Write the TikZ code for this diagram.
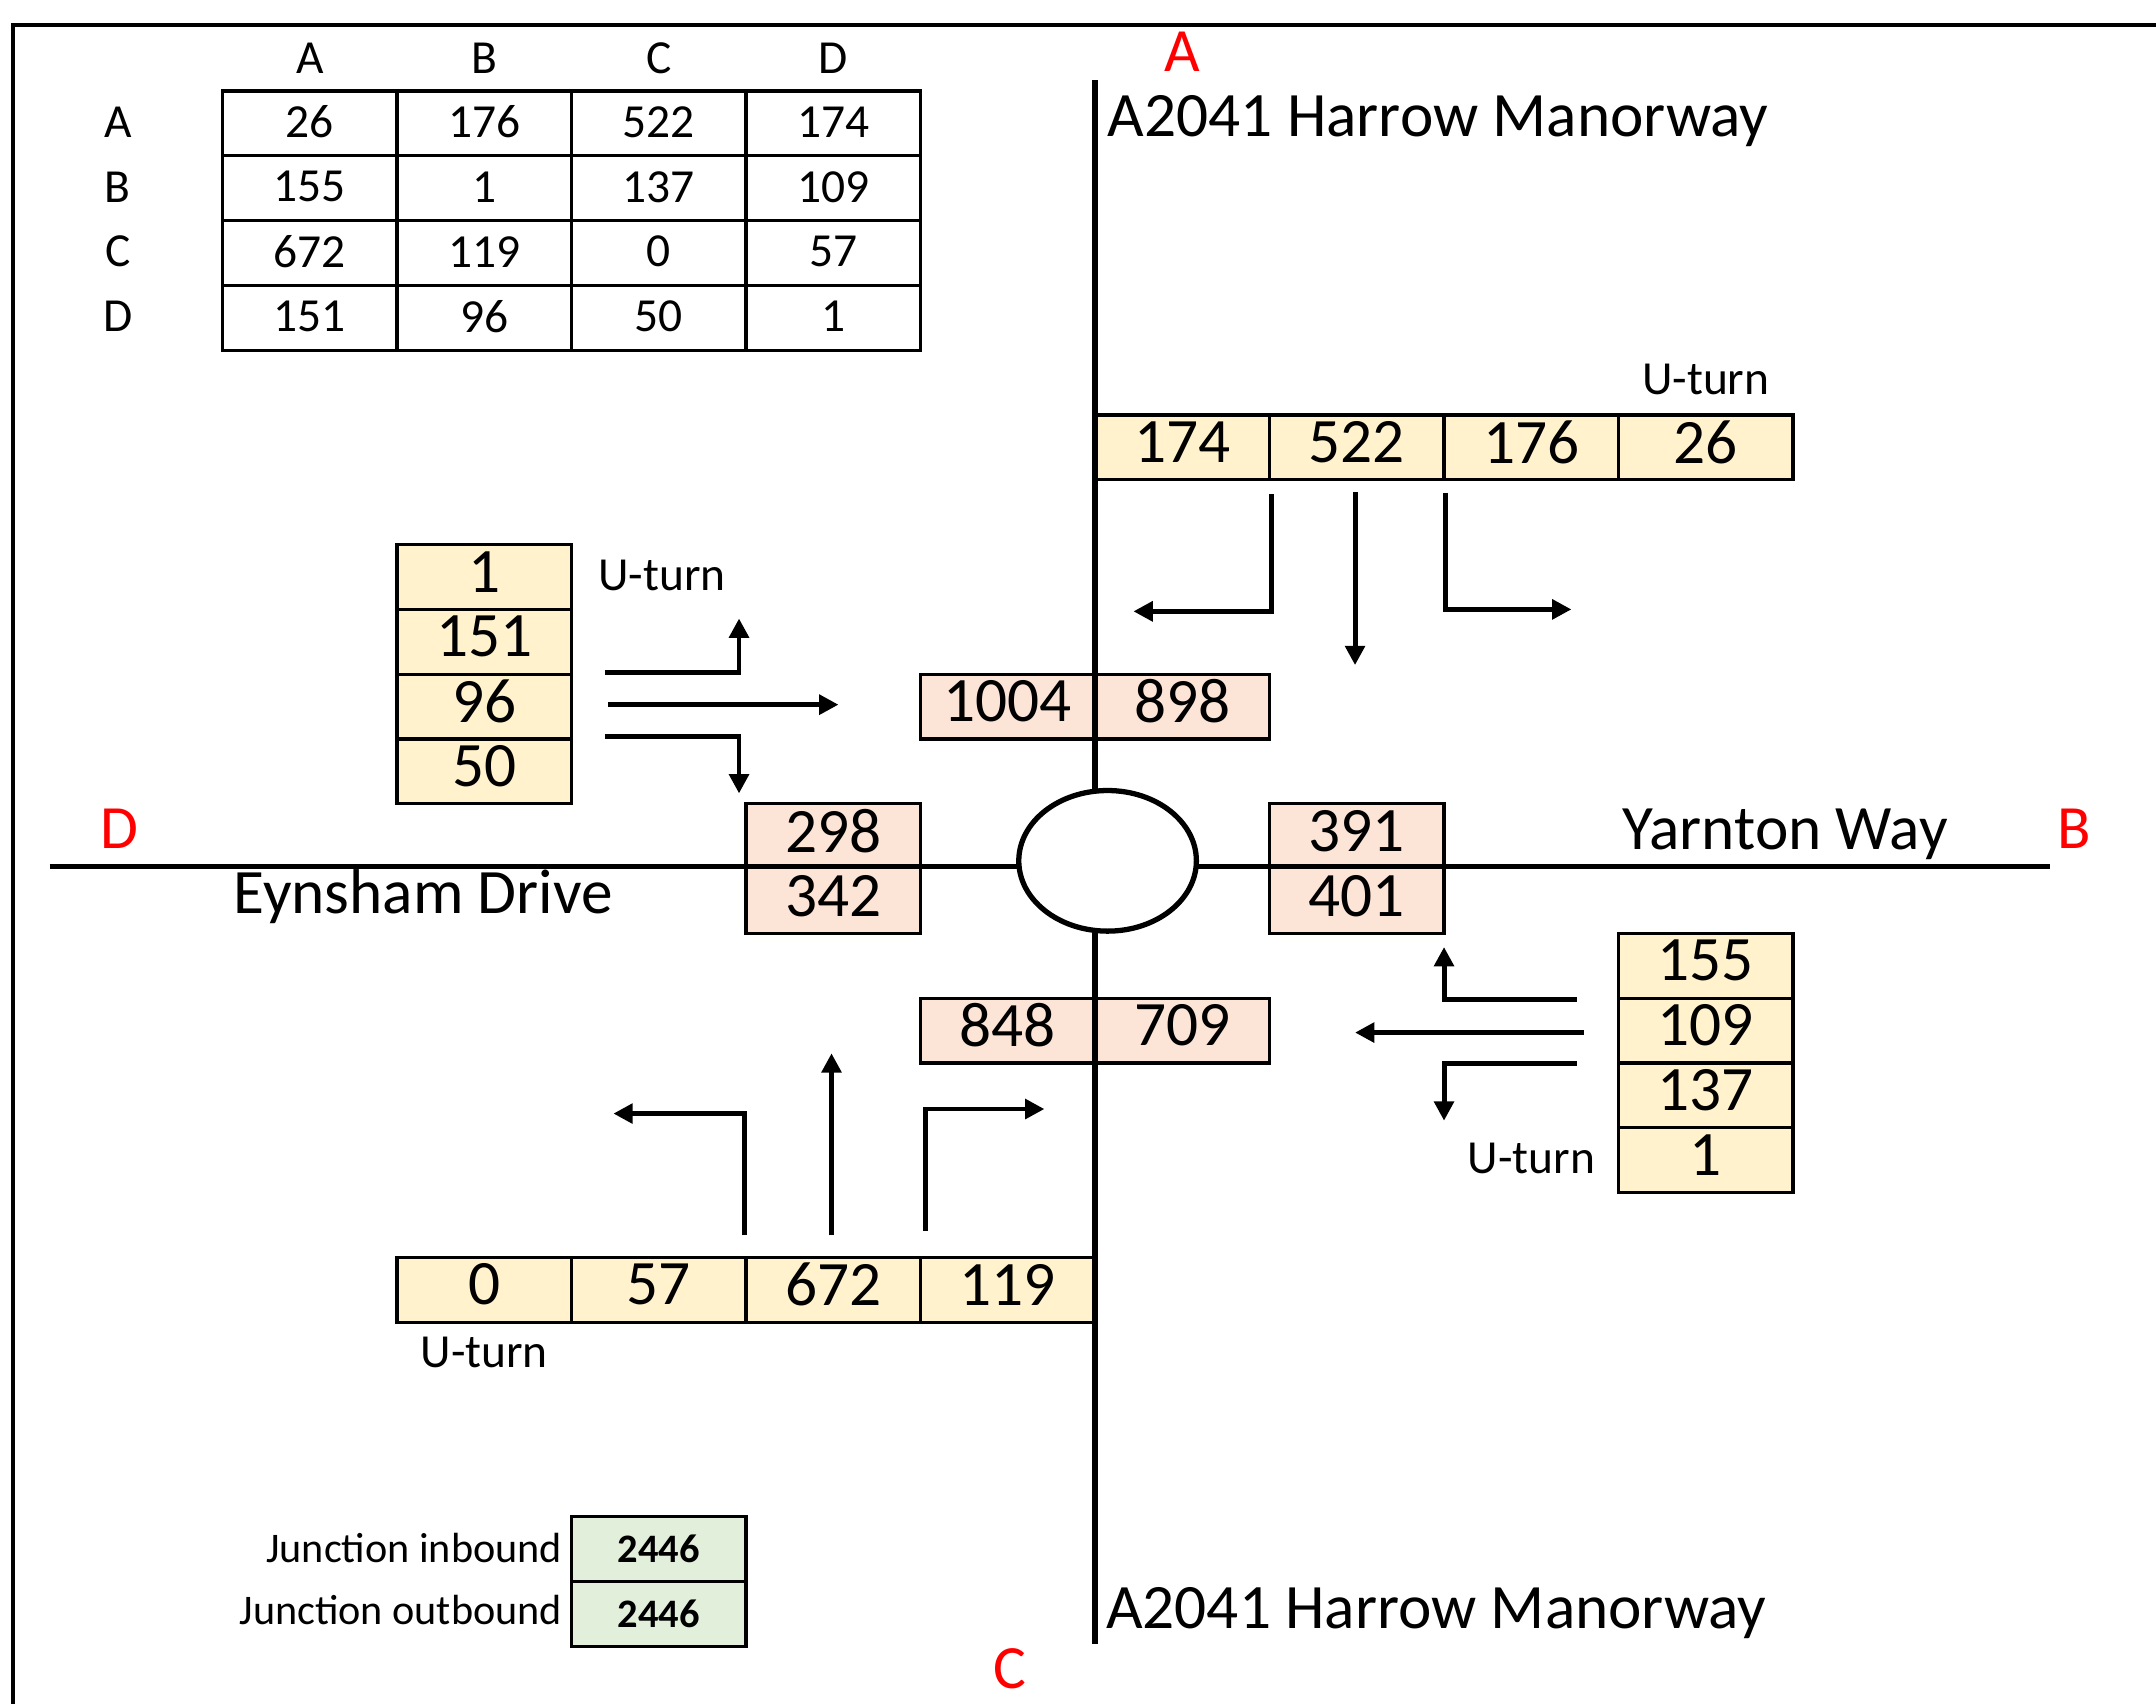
\documentclass[tikz,border=0pt]{standalone}
\usepackage{fontspec}
\setmainfont{Carlito}
\usepackage{xcolor}
\usepackage{tikz}
\usetikzlibrary{arrows.meta}
\definecolor{inblock}{RGB}{255, 242, 204}
\definecolor{outblock}{RGB}{252, 228, 214}
\definecolor{sumblock}{RGB}{226, 239, 218}
\definecolor{armred}{RGB}{255, 0, 0}

\tikzset{
	road/.style={black, line width=1.5pt},
	cellline/.style={black, line width=0.9pt},
	turn/.style={black, line width=1.4pt, -{Triangle[length=5.5pt, width=5.5pt]}},
	bignum/.style={font=\fontsize{18}{20}\selectfont, inner sep=0pt},
	midtxt/.style={font=\fontsize{13.5}{16}\selectfont, inner sep=0pt},
	smalltxt/.style={font=\fontsize{12}{14}\selectfont, inner sep=0pt},
	armlbl/.style={font=\fontsize{17.5}{20}\selectfont, text=armred, inner sep=0pt},
}

\begin{document}
\begin{tikzpicture}[x=1.745cm, y=-0.648cm]
			\useasboundingbox (-0.275,-1.404) rectangle (12.080,24.877);
			
			\draw[line width=1.2pt] (12.2,-1.015) -- (-0.2,-1.015) -- (-0.2,25.0);
			
			% OD table
			\draw[cellline] (1,0) rectangle (5,4);
			\foreach \i in {2,3,4} {
				\draw[cellline] (\i,0) -- (\i,4);
			}
			\foreach \i in {1,2,3} {
				\draw[cellline] (1,\i) -- (5,\i);
			}
			\foreach \h [count=\i] in {A,B,C,D} {
				\node[midtxt] (col\h) at (\i+0.5,-0.50) {\h};
				\node[midtxt] (row\h) at (0.40,\i-0.52) {\h};
			}
			\foreach \v [count=\i] in {26,176,522,174} \node[midtxt] (odA\i) at (\i+0.5,0.48) {\v};
			\foreach \v [count=\i] in {155,1,137,109} \node[midtxt] (odB\i) at (\i+0.5,1.48) {\v};
			\foreach \v [count=\i] in {672,119,0,57} \node[midtxt] (odC\i) at (\i+0.5,2.48) {\v};
			\foreach \v [count=\i] in {151,96,50,1} \node[midtxt] (odD\i) at (\i+0.5,3.48) {\v};
			
			% box fills
			\fill[inblock] (6,5) rectangle (10,6);
			\fill[inblock] (2,7) rectangle (3,11);
			\fill[inblock] (9,13) rectangle (10,17);
			\fill[inblock] (2,18) rectangle (6,19);
			\fill[outblock] (5,9) rectangle (7,10);
			\fill[outblock] (4,11) rectangle (5,13);
			\fill[outblock] (7,11) rectangle (8,13);
			\fill[outblock] (5,14) rectangle (7,15);
			\fill[sumblock] (3,22) rectangle (4,24);
			
			% roads
			\draw[road] (6,-0.17) -- (6,23.96);
			\draw[road] (0.01,11.97) -- (11.47,11.97);
			\draw[road, fill=white] (6.072,11.88) ellipse [x radius=0.888cm, y radius=0.703cm];
			
			% box lines
			\draw[cellline] (6,5) rectangle (10,6);
			\foreach \i in {7,8,9} {
				\draw[cellline] (\i,5) -- (\i,6);
			}
			\draw[cellline] (2,7) rectangle (3,11);
			\draw[cellline] (9,13) rectangle (10,17);
			\foreach \i in {1,2,3} {
				\draw[cellline] (2,7+\i) -- (3,7+\i);
				\draw[cellline] (9,13+\i) -- (10,13+\i);
			}
			\draw[cellline] (2,18) rectangle (6,19);
			\foreach \i in {3,4,5} {
				\draw[cellline] (\i,18) -- (\i,19);
			}
			\draw[cellline] (5,9) rectangle (7,10);
			\draw[cellline] (4,11) rectangle (5,13);
			\draw[cellline] (7,11) rectangle (8,13);
			\draw[cellline] (5,14) rectangle (7,15);
			\draw[cellline] (3,22) rectangle (4,24);
			\draw[cellline] (3,23) -- (4,23);
			
			% arm A
			\foreach \v [count=\i] in {174,522,176,26} \node[bignum] (inA\i) at (\i+5.5,5.42) {\v};
			\node[midtxt, anchor=base] (utA) at (9.5,4.69) {U-turn};
			\node[bignum] (outA1) at (5.5,9.42) {1004};
			\node[bignum] (outA2) at (6.5,9.42) {898};
			% arm D
			\foreach \v [count=\i] in {1,151,96,50} \node[bignum] (inD\i) at (2.5,\i+6.42) {\v};
			\node[midtxt, anchor=base west] (utD) at (3.15,7.71) {U-turn};
			\node[bignum] (outD1) at (4.5,11.42) {298};
			\node[bignum] (outD2) at (4.5,12.42) {342};
			% arm B
			\foreach \v [count=\i] in {155,109,137,1} \node[bignum] (inB\i) at (9.5,\i+12.42) {\v};
			\node[midtxt, anchor=base] (utB) at (8.5,16.70) {U-turn};
			\node[bignum] (outB1) at (7.5,11.42) {391};
			\node[bignum] (outB2) at (7.5,12.42) {401};
			% arm C
			\foreach \v [count=\i] in {0,57,672,119} \node[bignum] (inC\i) at (\i+1.5,18.42) {\v};
			\node[midtxt, anchor=base] (utC) at (2.5,19.70) {U-turn};
			\node[bignum] (outC1) at (5.5,14.42) {848};
			\node[bignum] (outC2) at (6.5,14.42) {709};
			
			% totals
			\node[smalltxt, anchor=base east] (totIn) at (2.95,22.71) {Junction inbound};
			\node[smalltxt, anchor=base east] (totOut) at (2.95,23.66) {Junction outbound};
			\node[smalltxt, font=\fontsize{11.5}{14}\selectfont\bfseries] (sumIn) at (3.5,22.5) {2446};
			\node[smalltxt, font=\fontsize{11.5}{14}\selectfont\bfseries] (sumOut) at (3.5,23.5) {2446};
			
			% road names
			\node[bignum, anchor=base west] (roadN) at (6.07,0.70) {A2041 Harrow Manorway};
			\node[bignum, anchor=base west] (roadS) at (6.06,23.72) {A2041 Harrow Manorway};
			\node[bignum, anchor=base west] (roadE) at (9.02,11.71) {Yarnton Way};
			\node[bignum, anchor=base west] (roadW) at (1.06,12.70) {Eynsham Drive};
			\node[armlbl, anchor=base] (armA) at (6.50,-0.30) {A};
			\node[armlbl, anchor=base] (armB) at (11.61,11.69) {B};
			\node[armlbl, anchor=base] (armC) at (5.51,24.65) {C};
			\node[armlbl, anchor=base] (armD) at (0.41,11.69) {D};
			
			% turning arrows
			\draw[turn] (7.01,6.22) |- (6.22,8.03);
			\draw[turn] (7.49,6.19) -- (7.49,8.86);
			\draw[turn] (8.01,6.20) |- (8.73,8.00);
			\draw[turn] (3.19,8.98) -| (3.96,8.14);
			\draw[turn] (3.21,9.47) -- (4.53,9.47);
			\draw[turn] (3.19,9.96) -| (3.96,10.84);
			\draw[turn] (8.76,14.02) -| (8.00,13.21);
			\draw[turn] (8.80,14.53) -- (7.49,14.53);
			\draw[turn] (8.76,15.01) -| (8.00,15.89);
			\draw[turn] (3.99,17.66) |- (3.24,15.78);
			\draw[turn] (4.49,17.66) -- (4.49,14.85);
			\draw[turn] (5.03,17.59) |- (5.71,15.71);
			
		\end{tikzpicture}
\end{document}
